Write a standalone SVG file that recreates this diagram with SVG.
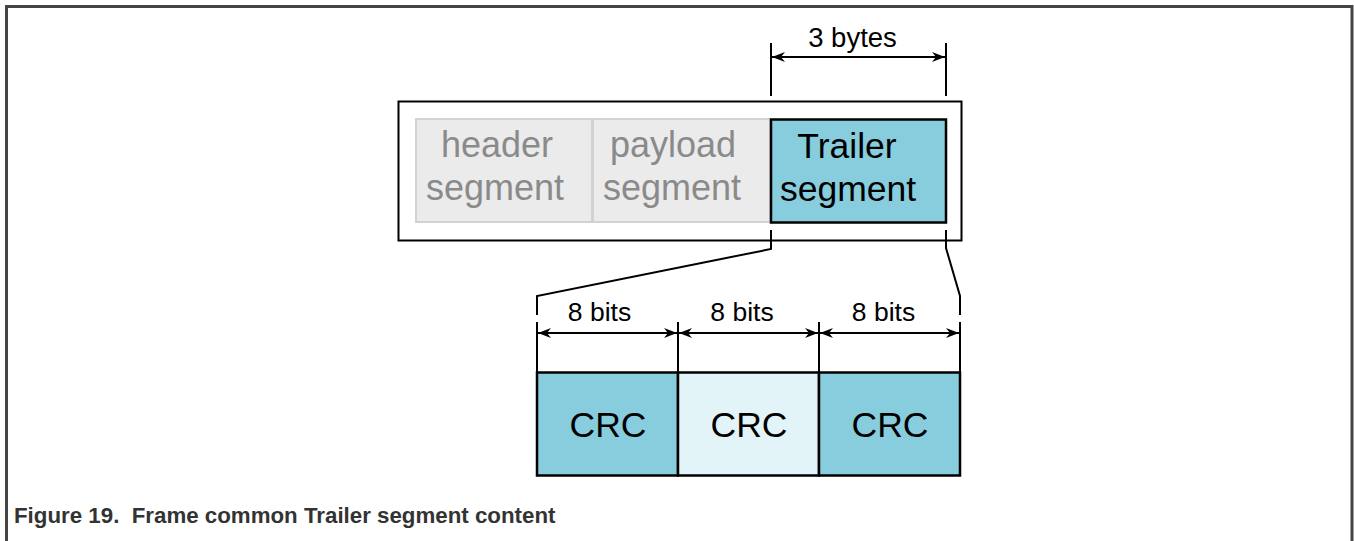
<svg xmlns="http://www.w3.org/2000/svg" width="1354" height="541" viewBox="0 0 1354 541">
  <style>
    .t { font-family: "Liberation Sans", Arial, sans-serif; }
    .seg-grey { fill: #ebebeb; stroke: #d2d2d2; stroke-width: 2; }
    .seg-grey-txt { font-size: 36px; fill: #8a8a8a; text-anchor: middle; }
    .dark { fill: #87cdde; stroke: #000; stroke-width: 2.5; }
    .light { fill: #e3f4f8; stroke: #000; stroke-width: 2.5; }
    .lbl { font-size: 35.5px; fill: #000; text-anchor: middle; }
    .dim { font-size: 26.5px; fill: #000; text-anchor: middle; }
    .ln { fill: none; stroke: #000; stroke-width: 2; }
    .arr { fill: none; stroke: #000; stroke-width: 2; marker-start: url(#ah); marker-end: url(#ah); }
  </style>
  <defs>
    <marker id="ah" markerUnits="userSpaceOnUse" markerWidth="14" markerHeight="12" refX="13" refY="5" orient="auto-start-reverse">
      <path d="M0,0 L13,5 L0,10 L4,5 z" fill="#000"/>
    </marker>
  </defs>

  <!-- figure border -->
  <g id="figure-frame" fill="none" stroke="#444" stroke-width="3">
    <polyline points="6.5,541 6.5,6.5 1352,6.5 1352,541"/>
  </g>

  <!-- frame -->
  <g id="frame">
    <rect x="398.5" y="101.5" width="563" height="139" fill="#fff" stroke="#000" stroke-width="2"/>
  </g>
  <g id="header-segment">
    <rect class="seg-grey" x="416" y="119" width="176" height="103"/>
    <text class="t seg-grey-txt" x="497" y="157">header</text>
    <text class="t seg-grey-txt" x="495" y="200">segment</text>
  </g>
  <g id="payload-segment">
    <rect class="seg-grey" x="593" y="119" width="177" height="103"/>
    <text class="t seg-grey-txt" x="673" y="157">payload</text>
    <text class="t seg-grey-txt" x="672" y="200">segment</text>
  </g>
  <g id="trailer-segment">
    <rect class="dark" x="771" y="119.5" width="175" height="103"/>
    <text class="t lbl" x="847" y="158">Trailer</text>
    <text class="t lbl" x="848" y="201">segment</text>
  </g>

  <!-- CRC bytes -->
  <g id="crc-1">
    <rect class="dark" x="537" y="372.5" width="141" height="103"/>
    <text class="t lbl" x="608" y="437">CRC</text>
  </g>
  <g id="crc-2">
    <rect class="light" x="678" y="372.5" width="141" height="103"/>
    <text class="t lbl" x="749" y="437">CRC</text>
  </g>
  <g id="crc-3">
    <rect class="dark" x="819" y="372.5" width="141" height="103"/>
    <text class="t lbl" x="890" y="437">CRC</text>
  </g>

  <!-- dimension lines and expansion connectors -->
  <g id="connectors">
    <line class="ln" x1="771" y1="43" x2="771" y2="96"/>
    <line class="ln" x1="946" y1="43" x2="946" y2="96"/>
    <line class="arr" x1="772" y1="57" x2="945" y2="57"/>
    <text class="t" x="852.5" y="47" font-size="27.5" text-anchor="middle">3 bytes</text>

    <polyline class="ln" points="771,230 771,249 537,296 537,315"/>
    <polyline class="ln" points="946,230 946,248 960,296 960,315"/>

    <line class="ln" x1="537" y1="322" x2="537" y2="372"/>
    <line class="ln" x1="678" y1="322" x2="678" y2="372"/>
    <line class="ln" x1="819" y1="322" x2="819" y2="372"/>
    <line class="ln" x1="960" y1="322" x2="960" y2="372"/>
    <line class="arr" x1="538" y1="333" x2="677" y2="333"/>
    <line class="arr" x1="679" y1="333" x2="818" y2="333"/>
    <line class="arr" x1="820" y1="333" x2="959" y2="333"/>
    <text class="t dim" x="599.5" y="321">8 bits</text>
    <text class="t dim" x="742" y="321">8 bits</text>
    <text class="t dim" x="883.5" y="321">8 bits</text>
  </g>

  <text class="t" x="14" y="523" font-size="22.3" font-weight="bold" fill="#333" xml:space="preserve">Figure 19.  Frame common Trailer segment content</text>
</svg>
